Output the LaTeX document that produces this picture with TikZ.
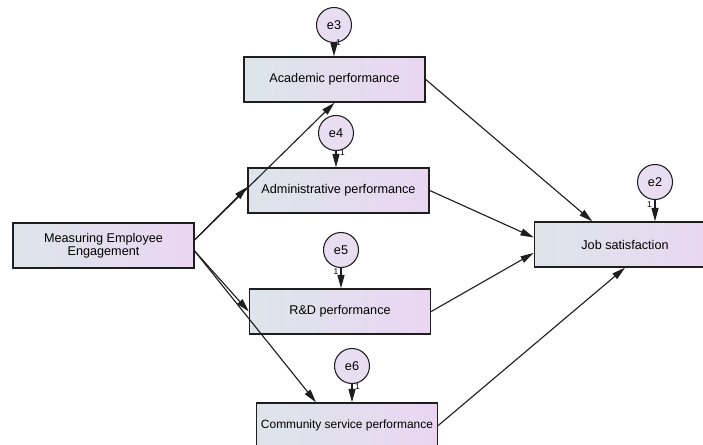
\documentclass[tikz,border=0pt]{standalone}
\usepackage{fontspec}
\setmainfont{Liberation Sans}
\definecolor{boxleft}{RGB}{221,229,234}
\definecolor{boxright}{RGB}{234,214,242}
\definecolor{errfill}{RGB}{233,222,241}
\definecolor{lnblack}{RGB}{30,30,30}
\usetikzlibrary{arrows.meta,positioning,calc}

\begin{document}
\begin{tikzpicture}[x=0.025cm, y=-0.025cm,
  every node/.style={font=\fontsize{9}{9.5}\selectfont},
  varbox/.style={draw=lnblack, line width=1pt, left color=boxleft, right color=boxright,
                 minimum width=4.525cm, minimum height=1.125cm, align=center, inner sep=0pt},
  errvar/.style={circle, draw=lnblack, line width=0.75pt, fill=errfill,
                 minimum size=0.875cm, inner sep=0pt},
  arr/.style={-{Triangle[length=9.5pt,width=5pt]}, line width=0.8pt, lnblack},
  one/.style={font=\fontsize{6}{6}\selectfont, inner sep=0pt}]
  % Canvas (boxes run off the right and bottom edges)
  \clip (0,0) rectangle (703,445);
  \fill[white] (0,0) rectangle (703,445);

  % Observed variables
  \node[varbox] (meas)  at (103.5,245.5) {Measuring Employee\\Engagement};
  \node[varbox] (acad)  at (334.5,79.5)  {Academic performance};
  \node[varbox] (admin) at (338.5,190.5) {Administrative performance};
  \node[varbox] (rd)    at (340,311.5)   {R\&D performance};
  \node[varbox, font=\fontsize{8.5}{9}\selectfont] (comm) at (347,425.5)
    {Community service performance};
  \node[varbox] (job)   at (625,244.5)   {Job satisfaction};

  % Error terms
  \node[errvar] (e3) at (334,25)  {e3};
  \node[errvar] (e4) at (336,133) {e4};
  \node[errvar] (e5) at (341,250) {e5};
  \node[errvar] (e6) at (352,366) {e6};
  \node[errvar] (e2) at (655,182) {e2};

  \draw[arr] (e3) -- (e3 |- acad.north);
  \draw[arr] (e4) -- (e4 |- admin.north);
  \draw[arr] (e5) -- (e5 |- rd.north);
  \draw[arr] (e6) -- (e6 |- comm.north);
  \draw[arr] (e2) -- (e2 |- job.north);
  \node[one] (one3) at (338.5,43)  {1};
  \node[one] (one4) at (342.5,153) {1};
  \node[one] (one5) at (336,272)   {1};
  \node[one] (one6) at (357.5,387) {1};
  \node[one] (one2) at (649.5,205) {1};

  % Engagement -> performance
  \draw[arr] ([yshift=4pt]meas.east) -- (acad.south);
  \draw[arr] ([yshift=4pt]meas.east) -- ([yshift=2.5pt]admin.west);
  \draw[arr] ([yshift=-4pt]meas.east) -- (rd.west);
  \draw[arr] ([yshift=-4pt]meas.east) -- ($(comm.north west)!0.33!(comm.north east)$);

  % Performance -> satisfaction
  \draw[arr] (acad.east) -- ($(job.north west)!0.32!(job.north east)$);
  \draw[arr] (admin.east) -- ([yshift=5pt]job.west);
  \draw[arr] (rd.east) -- ([yshift=-6pt]job.west);
  \draw[arr] (comm.east) -- (job.south);
\end{tikzpicture}
\end{document}
